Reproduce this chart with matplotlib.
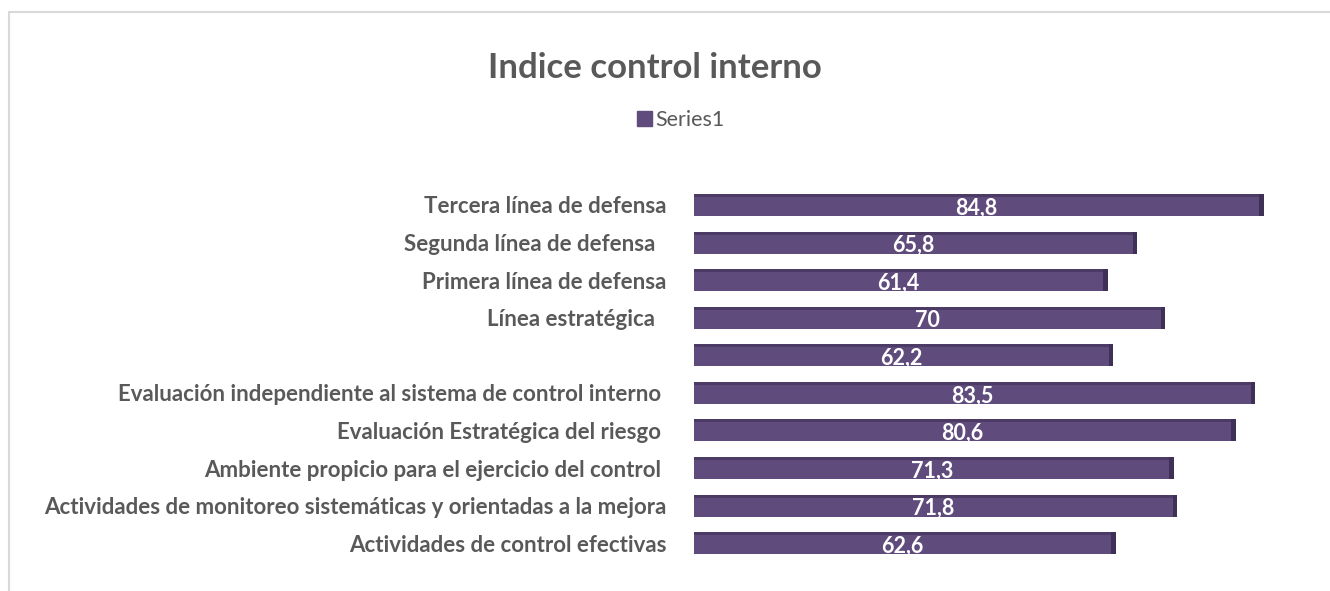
import matplotlib.pyplot as plt
from matplotlib.patches import Rectangle

categories = [
    "Actividades de control efectivas",
    "Actividades de monitoreo sistemáticas y orientadas a la mejora",
    "Ambiente propicio para el ejercicio del control ",
    "Evaluación Estratégica del riesgo ",
    "Evaluación independiente al sistema de control interno ",
    "",
    "Línea estratégica  ",
    "Primera línea de defensa",
    "Segunda línea de defensa  ",
    "Tercera línea de defensa",
]
values = [62.6, 71.8, 71.3, 80.6, 83.5, 62.2, 70, 61.4, 65.8, 84.8]
value_labels = ["62,6", "71,8", "71,3", "80,6", "83,5", "62,2", "70", "61,4", "65,8", "84,8"]

FONT = ["Lato", "DejaVu Sans"]
GRAY = "#595959"
BAR = "#5F4B7C"
SIDE = "#3E3057"
TOP = "#4B3B65"

plt.rcParams["font.family"] = FONT

fig = plt.figure(figsize=(13.3, 5.91), dpi=100)
ax = fig.add_axes([0.5218, 0.049, 0.4512, 0.636])

ypos = list(range(len(categories)))
h = 0.585
ax.barh(ypos, values, height=h, color=BAR, zorder=2)
# fake 3D: darker top strip and right face
ax.barh([y + h / 2 - 0.04 for y in ypos], values, height=0.08, color=TOP, zorder=3)
ax.barh(ypos, [0.7] * len(values), left=values, height=h, color=SIDE, zorder=2)

for y, v, lab in zip(ypos, values, value_labels):
    ax.text(v / 2, y - 0.08, lab, ha="center", va="center", color="white",
            fontsize=15.5, fontweight="bold", zorder=4)

ax.set_yticks(ypos)
ax.set_yticklabels(categories, fontsize=16, fontweight="bold", color=GRAY)
ax.tick_params(axis="y", length=0, pad=20)
ax.set_xticks([])
ax.set_xlim(0, 90)
ax.set_ylim(-0.5, len(categories) - 0.5)
for s in ax.spines.values():
    s.set_visible(False)

fig.text(0.4925, 0.885, "Indice control interno", ha="center", va="center",
         fontsize=25, fontweight="bold", color=GRAY)
fig.patches.append(Rectangle((637 / 1330, 0.786), 15 / 1330, 15 / 591, transform=fig.transFigure,
                             color=BAR, figure=fig))
fig.text(655 / 1330, 0.797, "Series1", ha="left", va="center", fontsize=15.5, color=GRAY)

fig.patches.append(Rectangle((9 / 1330, -0.1), 1.2, 1 - 12 / 591 + 0.1, transform=fig.transFigure,
                             fill=False, edgecolor="#D9D9D9", linewidth=1.5, figure=fig))

fig.savefig("out.png", dpi=100)
